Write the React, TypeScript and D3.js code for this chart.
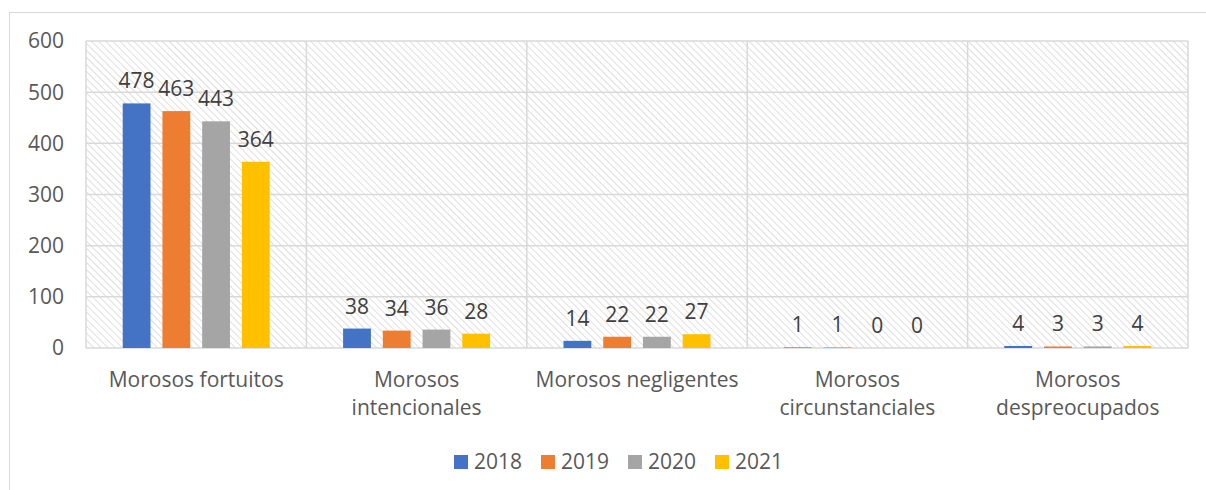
import React from "react";
import * as d3 from "d3";

const categories = [
  ["Morosos fortuitos"],
  ["Morosos", "intencionales"],
  ["Morosos negligentes"],
  ["Morosos", "circunstanciales"],
  ["Morosos", "despreocupados"],
];
const seriesNames = ["2018", "2019", "2020", "2021"];
const colors = ["#4472C4", "#ED7D31", "#A5A5A5", "#FFC000"];
const v2018 = [478, 38, 14, 1, 4];
const v2019 = [463, 34, 22, 1, 3];
const v2020 = [443, 36, 22, 0, 3];
const v2021 = [364, 28, 27, 0, 4];
const seriesValues = [v2018, v2019, v2020, v2021];
const yTicks = [0, 100, 200, 300, 400, 500, 600];

const W = 1206;
const H = 490;
const plot = { left: 86, right: 1188, top: 41, bottom: 348 };
const FONT = "'Open Sans', sans-serif";

export default function App() {
  const x0 = d3
    .scaleBand<number>()
    .domain(categories.map((_, i) => i))
    .range([plot.left, plot.right])
    .paddingInner(0)
    .paddingOuter(0);
  const groupW = 147;
  const x1 = d3
    .scaleBand<number>()
    .domain(seriesNames.map((_, i) => i))
    .range([0, groupW])
    .paddingInner(0.3)
    .paddingOuter(0);
  const y = d3.scaleLinear().domain([0, 600]).range([plot.bottom, plot.top]);
  const bw = x0.bandwidth();

  return (
    <svg
      width={W}
      height={H}
      style={{ position: "absolute", left: 0, top: 0, background: "#fff" }}
    >
      <defs>
        <pattern
          id="hatch"
          patternUnits="userSpaceOnUse"
          width="5"
          height="5"
          patternTransform="rotate(-45)"
        >
          <rect width="5" height="5" fill="#ffffff" />
          <line x1="0" y1="0" x2="0" y2="5" stroke="#dcdcdc" strokeWidth="1.8" />
        </pattern>
      </defs>
      <rect x={9.5} y={12.5} width={1220} height={500} fill="#fff" stroke="#d9d9d9" strokeWidth={1} />
      <rect
        x={plot.left}
        y={plot.top}
        width={plot.right - plot.left}
        height={plot.bottom - plot.top}
        fill="url(#hatch)"
      />
      {yTicks.map((t) => (
        <g key={t}>
          <line
            x1={plot.left}
            x2={plot.right}
            y1={y(t)}
            y2={y(t)}
            stroke="#d9d9d9"
            strokeWidth={1.5}
          />
          <text
            x={64}
            y={y(t)}
            dy="0.35em"
            textAnchor="end"
            fontFamily={FONT}
            fontSize={21}
            fill="#595959"
          >
            {t}
          </text>
        </g>
      ))}
      {d3.range(categories.length + 1).map((i) => {
        const xx = i < categories.length ? (x0(i) as number) : plot.right;
        return (
          <line
            key={i}
            x1={xx}
            x2={xx}
            y1={plot.top}
            y2={plot.bottom}
            stroke="#d9d9d9"
            strokeWidth={1.5}
          />
        );
      })}
      {categories.map((cat, ci) => {
        const gx = (x0(ci) as number) + (bw - groupW) / 2;
        return (
          <g key={ci}>
            {seriesValues.map((vals, si) => {
              const v = vals[ci];
              const bx = gx + (x1(si) as number);
              const top = y(v);
              return (
                <g key={si}>
                  <rect
                    x={bx}
                    y={top}
                    width={x1.bandwidth()}
                    height={Math.max(0, plot.bottom - top)}
                    fill={colors[si]}
                  />
                  <text
                    x={bx + x1.bandwidth() / 2}
                    y={top - 15}
                    textAnchor="middle"
                    fontFamily={FONT}
                    fontSize={21}
                    fill="#404040"
                  >
                    {v}
                  </text>
                </g>
              );
            })}
            {cat.map((line, li) => (
              <text
                key={li}
                x={(x0(ci) as number) + bw / 2}
                y={387 + li * 28}
                textAnchor="middle"
                fontFamily={FONT}
                fontSize={21}
                fill="#595959"
              >
                {line}
              </text>
            ))}
          </g>
        );
      })}
      {seriesNames.map((s, si) => {
        const lx = 454 + si * 87;
        return (
          <g key={s}>
            <rect x={lx} y={455} width={14} height={14} fill={colors[si]} />
            <text
              x={lx + 20}
              y={469}
              fontFamily={FONT}
              fontSize={21}
              fill="#595959"
            >
              {s}
            </text>
          </g>
        );
      })}
    </svg>
  );
}
